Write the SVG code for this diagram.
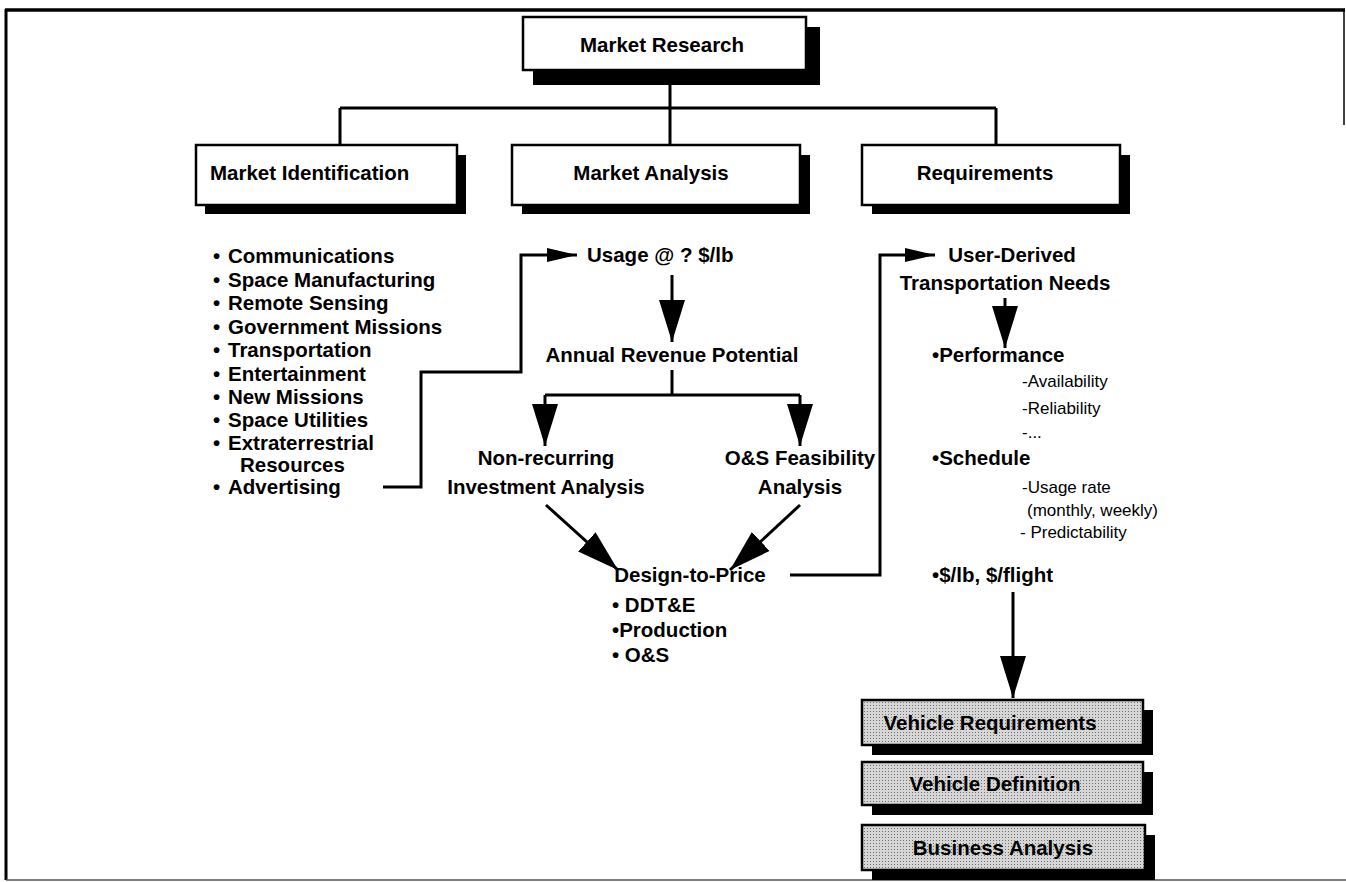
<svg xmlns="http://www.w3.org/2000/svg" width="1346" height="882" viewBox="0 0 1346 882">
<style>
  .b{font-family:"Liberation Sans",Arial,sans-serif;font-weight:bold;font-size:20.5px;fill:#000}
  .r{font-family:"Liberation Sans",Arial,sans-serif;font-size:17px;fill:#000}
  .box{fill:#fff;stroke:#000;stroke-width:2.5}
  .sh{fill:#000}
  .gbox{fill:url(#dots);stroke:#000;stroke-width:2.5}
  .ln{fill:none;stroke:#000;stroke-width:3}
  .c{text-anchor:middle}
</style>
<defs>
  <pattern id="dots" width="3" height="3" patternUnits="userSpaceOnUse">
    <rect width="3" height="3" fill="#d6d6d6"/>
    <rect width="1" height="1" fill="#707070"/>
  </pattern>
  <marker id="big" markerUnits="userSpaceOnUse" viewBox="0 0 42 26" markerWidth="42" markerHeight="26" refX="42" refY="13" orient="auto">
    <path d="M0,0 L42,13 L0,26 z" fill="#000"/>
  </marker>
  <marker id="sm" markerUnits="userSpaceOnUse" viewBox="0 0 30 14" markerWidth="30" markerHeight="14" refX="30" refY="7" orient="auto">
    <path d="M0,0 L30,7 L0,14 z" fill="#000"/>
  </marker>
</defs>
<rect width="1346" height="882" fill="#fff"/>
<g id="frame">
  <path d="M5,10 H1345" stroke="#000" stroke-width="3.5"/>
  <path d="M6,9 V880" stroke="#000" stroke-width="3"/>
  <path d="M6,880 H1346" stroke="#555" stroke-width="1.5"/>
  <path d="M1344,10 V125" stroke="#000" stroke-width="1.5"/>
</g>
<g id="connectors">
  <path class="ln" d="M670,85 V145 M340,108 H996 M340,108 V145 M996,108 V145"/>
  <path class="ln" d="M383,487 H421 V372 H521 V255 H577" marker-end="url(#sm)"/>
  <path class="ln" d="M672,275 V342" marker-end="url(#big)"/>
  <path class="ln" d="M672,370 V395 M545,395 H800"/>
  <path class="ln" d="M545,395 V446" marker-end="url(#big)"/>
  <path class="ln" d="M800,395 V446" marker-end="url(#big)"/>
  <path class="ln" d="M546,505 L618,570" marker-end="url(#big)"/>
  <path class="ln" d="M800,505 L730,570" marker-end="url(#big)"/>
  <path class="ln" d="M790,575 H880 V255 H935" marker-end="url(#sm)"/>
  <path class="ln" d="M1005,298 V348" marker-end="url(#big)"/>
  <path class="ln" d="M1013,592 V698" marker-end="url(#big)"/>
</g>
<g id="market-research">
  <rect class="sh" x="533" y="27" width="287" height="58"/>
  <rect class="box" x="523" y="17" width="283" height="53"/>
  <text class="b c" x="662" y="52">Market Research</text>
</g>
<g id="market-identification">
  <rect class="sh" x="205" y="155" width="261" height="59"/>
  <rect class="box" x="196" y="145" width="261" height="60"/>
  <text class="b" x="210" y="180">Market Identification</text>
</g>
<g id="market-analysis">
  <rect class="sh" x="522" y="155" width="288" height="59"/>
  <rect class="box" x="512" y="145" width="288" height="60"/>
  <text class="b c" x="651" y="180">Market Analysis</text>
</g>
<g id="requirements">
  <rect class="sh" x="872" y="155" width="258" height="59"/>
  <rect class="box" x="862" y="145" width="258" height="60"/>
  <text class="b c" x="985" y="180">Requirements</text>
</g>
<g id="market-list">
  <text class="b" x="213" y="263">•</text><text class="b" x="228" y="263">Communications</text>
  <text class="b" x="213" y="287">•</text><text class="b" x="228" y="287">Space Manufacturing</text>
  <text class="b" x="213" y="310">•</text><text class="b" x="228" y="310">Remote Sensing</text>
  <text class="b" x="213" y="334">•</text><text class="b" x="228" y="334">Government Missions</text>
  <text class="b" x="213" y="357">•</text><text class="b" x="228" y="357">Transportation</text>
  <text class="b" x="213" y="381">•</text><text class="b" x="228" y="381">Entertainment</text>
  <text class="b" x="213" y="404">•</text><text class="b" x="228" y="404">New Missions</text>
  <text class="b" x="213" y="427">•</text><text class="b" x="228" y="427">Space Utilities</text>
  <text class="b" x="213" y="450">•</text><text class="b" x="228" y="450">Extraterrestrial</text>
  <text class="b" x="240" y="472">Resources</text>
  <text class="b" x="213" y="494">•</text><text class="b" x="228" y="494">Advertising</text>
</g>
<g id="usage">
  <text class="b" x="587" y="262">Usage @ ? $/lb</text>
</g>
<g id="annual-revenue">
  <text class="b c" x="672" y="362">Annual Revenue Potential</text>
</g>
<g id="non-recurring">
  <text class="b c" x="546" y="465">Non-recurring</text>
  <text class="b c" x="546" y="494">Investment Analysis</text>
</g>
<g id="os-feasibility">
  <text class="b c" x="800" y="465">O&amp;S Feasibility</text>
  <text class="b c" x="800" y="494">Analysis</text>
</g>
<g id="design-to-price">
  <text class="b c" x="690" y="582">Design-to-Price</text>
  <text class="b" x="612" y="612">• DDT&amp;E</text>
  <text class="b" x="612" y="637">•Production</text>
  <text class="b" x="612" y="662">• O&amp;S</text>
</g>
<g id="user-derived">
  <text class="b c" x="1012" y="262">User-Derived</text>
  <text class="b c" x="1005" y="290">Transportation Needs</text>
</g>
<g id="needs-list">
  <text class="b" x="932" y="362">•Performance</text>
  <text class="r" x="1022" y="387">-Availability</text>
  <text class="r" x="1022" y="414">-Reliability</text>
  <text class="r" x="1022" y="438">-...</text>
  <text class="b" x="932" y="465">•Schedule</text>
  <text class="r" x="1022" y="493">-Usage rate</text>
  <text class="r" x="1027" y="516">(monthly, weekly)</text>
  <text class="r" x="1020" y="538">- Predictability</text>
  <text class="b" x="932" y="582">•$/lb, $/flight</text>
</g>
<g id="vehicle-requirements">
  <rect class="sh" x="872" y="710" width="281" height="45"/>
  <rect class="gbox" x="862" y="700" width="281" height="45"/>
  <text class="b c" x="990" y="730">Vehicle Requirements</text>
</g>
<g id="vehicle-definition">
  <rect class="sh" x="872" y="772" width="281" height="43"/>
  <rect class="gbox" x="862" y="762" width="281" height="43"/>
  <text class="b c" x="995" y="791">Vehicle Definition</text>
</g>
<g id="business-analysis">
  <rect class="sh" x="872" y="835" width="283" height="45"/>
  <rect class="gbox" x="862" y="825" width="283" height="45"/>
  <text class="b c" x="1003" y="855">Business Analysis</text>
</g>
</svg>
